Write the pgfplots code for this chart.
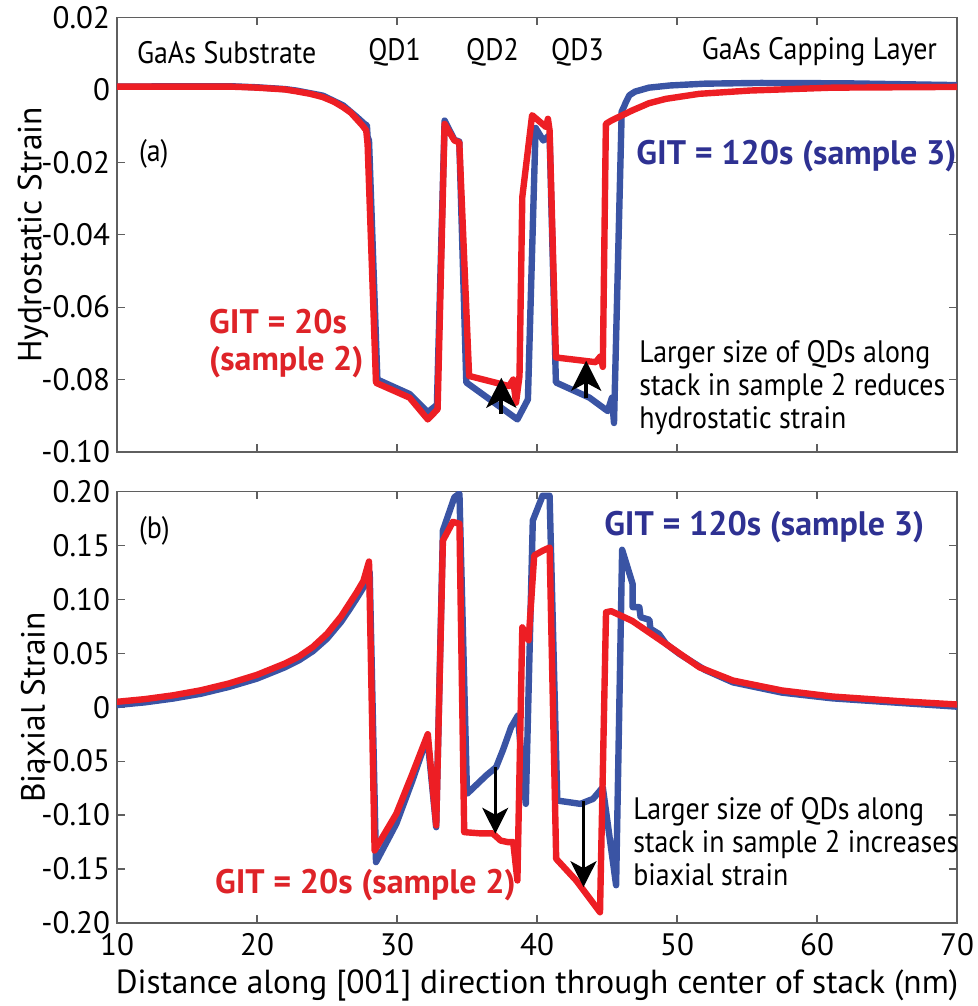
\documentclass[border=0pt]{standalone}
\usepackage{pgfplots}
\pgfplotsset{compat=1.18}
\usepackage{fontspec}
\setmainfont{PT Sans}
\newfontfamily\annfam{PT Sans}[FakeStretch=0.9]
\usetikzlibrary{arrows.meta}

\definecolor{cred}{RGB}{237,30,36}
\definecolor{cblue}{RGB}{58,84,164}
\definecolor{tblue}{RGB}{46,49,146}
\definecolor{tred}{RGB}{222,35,40}
\definecolor{axgray}{RGB}{95,95,95}

% hydrostatic strain, GIT = 20 s (sample 2)
\pgfplotstableread{
x v
10 0.0009
14 0.0009
18 0.0009
20 0.0006
22 0.0001
22.8 -0.0004
23.8 -0.0011
24.7 -0.0020
25.5 -0.0033
26.15 -0.0048
26.7 -0.0063
27.1 -0.0080
27.5 -0.0097
27.8 -0.0112
27.9 -0.0150
28.5 -0.0809
30.9 -0.0850
32.2 -0.0910
32.9 -0.0882
33.4 -0.0094
34.1 -0.0140
34.45 -0.0145
35.15 -0.0790
38.0 -0.0818
38.3 -0.0800
38.5 -0.0864
38.75 -0.0790
38.95 -0.0296
39.65 -0.0070
40.65 -0.0103
40.78 -0.0080
40.9 -0.0112
41.35 -0.0739
44.2 -0.0752
44.55 -0.0735
44.7 -0.0765
44.92 -0.0094
45.3 -0.0085
46.8 -0.0057
48.0 -0.0037
49.2 -0.0025
51.6 -0.0011
55.2 -0.0002
61.1 0.0006
70 0.0008
}\hydroA

% hydrostatic strain, GIT = 120 s (sample 3)
\pgfplotstableread{
x v
10 0.0009
18 0.0010
20 0.0007
22 0.0002
22.8 -0.0002
24.7 -0.0016
26.15 -0.0043
27.1 -0.0074
27.7 -0.0095
27.85 -0.0098
27.9 -0.0130
28.0 -0.0140
28.6 -0.0800
30.9 -0.0840
32.2 -0.0890
32.85 -0.0870
33.4 -0.0085
34.1 -0.0138
34.45 -0.0143
34.95 -0.0808
38.6 -0.0910
39.35 -0.0855
39.9 -0.0105
40.45 -0.0140
40.9 -0.0125
41.35 -0.0808
43.75 -0.0850
45.05 -0.0887
45.35 -0.0850
45.5 -0.0920
46.05 -0.0060
46.2 -0.0048
46.35 -0.0034
46.6 -0.0015
47.0 -0.0005
48 0.0006
49.5 0.0012
52 0.0017
56 0.0019
62 0.0018
70 0.0013
}\hydroB

% biaxial strain, GIT = 20 s (sample 2)
\pgfplotstableread{
x v
10 0.0050
12 0.0075
14 0.0110
16 0.0157
18 0.0220
20 0.0300
22 0.0405
23 0.0470
24 0.0560
25 0.0680
26 0.0840
26.6 0.0960
27.1 0.1060
27.6 0.1170
28.0 0.1350
28.4 -0.1328
29.95 -0.0988
31.1 -0.0617
32.2 -0.0250
32.8 -0.1096
33.28 0.1545
33.99 0.1718
34.46 0.1700
34.8 -0.1158
36.0 -0.1170
36.84 -0.1170
37.4 -0.1236
37.9 -0.1250
38.3 -0.1250
38.6 -0.1606
38.95 0.0740
39.4 0.0620
39.8 0.1406
40.4 0.1450
40.9 0.1480
41.37 -0.1405
42.8 -0.1606
44.5 -0.1900
44.93 0.0880
45.3 0.0890
46.8 0.0800
49.2 0.0587
51.6 0.0370
54.0 0.0247
57.5 0.0155
61.1 0.0099
65.9 0.0056
70 0.0025
}\biaxA

% biaxial strain, GIT = 120 s (sample 3)
\pgfplotstableread{
x v
10 0.0020
12 0.0045
14 0.0080
16 0.0125
18 0.0188
20 0.0265
22 0.0370
23 0.0435
24 0.0520
25 0.0635
26 0.0790
26.6 0.0905
27.1 0.1005
27.6 0.1110
28.05 0.1250
28.5 -0.1436
29.95 -0.1080
31.1 -0.0680
32.17 -0.0277
32.8 -0.1112
33.28 0.1638
34.1 0.1946
34.46 0.1980
35.0 -0.0803
36.37 -0.0633
37.08 -0.0556
37.56 -0.0400
38.15 -0.0185
38.63 -0.0078
39.2 -0.0896
39.7 0.1730
40.4 0.1960
40.9 0.1960
41.45 -0.0865
43.1 -0.0896
44.0 -0.0850
44.7 -0.0743
45.65 -0.1650
46.08 0.1459
46.83 0.1143
46.83 0.0927
47.31 0.0927
47.4 0.0834
48.03 0.0810
48.1 0.0727
48.7 0.0680
49.22 0.0587
50.17 0.0494
52 0.0345
54 0.0230
57.5 0.0135
61.1 0.0082
65.9 0.0040
70 0.0005
}\biaxB

\pgfplotsset{
  strainaxis/.style={
    scale only axis, width=420pt,
    xmin=10, xmax=70,
    xtick={10,20,30,40,50,60,70},
    tick align=inside,
    major tick length=4pt,
    axis line style={axgray, line width=0.6pt},
    every tick/.style={axgray, line width=0.6pt},
    tick label style={font=\fontsize{15.5}{18}\selectfont, black},
    xticklabel style={yshift=-1.5pt},
    label style={font=\fontsize{16.7}{20}\selectfont},
    ylabel style={at={(axis description cs:-0.1,0.5)}, anchor=center},
  },
  strain/.style={line width=3.2pt, line join=round, line cap=round, no markers},
}
\tikzset{
  uparrow/.style={line width=2pt, -{Stealth[length=15pt, width=15pt, inset=4pt]}},
  downarrow/.style={line width=1.3pt, -{Stealth[length=13pt, width=13pt, inset=3.5pt]}},
}

\newcommand{\annfont}{\annfam\fontsize{15.5}{16.5}\selectfont}
\newcommand{\gitfont}{\fontsize{17}{18.5}\selectfont\bfseries}

\begin{document}
\begin{tikzpicture}
\useasboundingbox (0,0) rectangle (489pt,503pt);

% (a) hydrostatic strain
\begin{axis}[strainaxis,
  at={(58.5pt,277pt)}, anchor=south west, height=217.3pt,
  ymin=-0.10, ymax=0.02,
  ytick={-0.10,-0.08,-0.06,-0.04,-0.02,0,0.02},
  yticklabels={-0.10,-0.08,-0.06,-0.04,-0.02,0,0.02},
  xticklabels={},
  ylabel={Hydrostatic Strain},
]
\addplot[strain, cblue] table[x=x, y=v] {\hydroB};
\addplot[strain, cred] table[x=x, y=v] {\hydroA};

\node[anchor=west, font=\annfont] at (axis cs:10.93,0.0104) {GaAs Substrate};
\node[font=\annfont] at (axis cs:29.83,0.0104) {QD1};
\node[font=\annfont] at (axis cs:36.82,0.0104) {QD2};
\node[font=\annfont] at (axis cs:42.89,0.0104) {QD3};
\node[anchor=east, font=\annfont] at (axis cs:69.07,0.0104) {GaAs Capping Layer};
\node[anchor=west, font=\annfont] at (axis cs:11.07,-0.0176) {(a)};
\node[anchor=west, font=\gitfont, text=tblue] at (axis cs:46.6,-0.0184) {GIT = 120s (sample 3)};
\node[align=left, font=\gitfont, text=tred] at (axis cs:22.1,-0.0700) {GIT = 20s\\(sample 2)};
\node[anchor=west, align=left, font=\annfont] at (axis cs:46.81,-0.0823)
  {Larger size of QDs along\\stack in sample 2 reduces\\hydrostatic strain};

\draw[uparrow] (axis cs:37.45,-0.0895) -- (axis cs:37.45,-0.0795);
\draw[uparrow] (axis cs:43.51,-0.0850) -- (axis cs:43.51,-0.0748);
\end{axis}

% (b) biaxial strain
\begin{axis}[strainaxis,
  at={(58.5pt,41.5pt)}, anchor=south west, height=215.8pt,
  ymin=-0.20, ymax=0.20,
  ytick={-0.20,-0.15,-0.10,-0.05,0,0.05,0.10,0.15,0.20},
  yticklabels={-0.20,-0.15,-0.10,-0.05,0,0.05,0.10,0.15,0.20},
  xticklabels={10,20,30,40,50,60,70},
  ylabel={Biaxial Strain},
  xlabel={Distance along [001] direction through center of stack (nm)},
  xlabel style={at={(axis description cs:0.5,-0.1437)}, anchor=center},
]
\addplot[strain, cblue] table[x=x, y=v] {\biaxB};
\addplot[strain, cred] table[x=x, y=v] {\biaxA};

\node[anchor=west, font=\annfont] at (axis cs:11.07,0.1638) {(b)};
\node[anchor=west, font=\gitfont, text=tblue] at (axis cs:44.3,0.1665) {GIT = 120s (sample 3)};
\node[anchor=west, font=\gitfont, text=tred] at (axis cs:16.5,-0.1653) {GIT = 20s (sample 2)};
\node[anchor=west, align=left, font=\annfont] at (axis cs:46.38,-0.1245)
  {Larger size of QDs along\\stack in sample 2 increases\\biaxial strain};

\draw[downarrow] (axis cs:37.02,-0.0556) -- (axis cs:37.02,-0.1173);
\draw[downarrow] (axis cs:43.32,-0.0865) -- (axis cs:43.32,-0.1668);
\end{axis}
\end{tikzpicture}
\end{document}
